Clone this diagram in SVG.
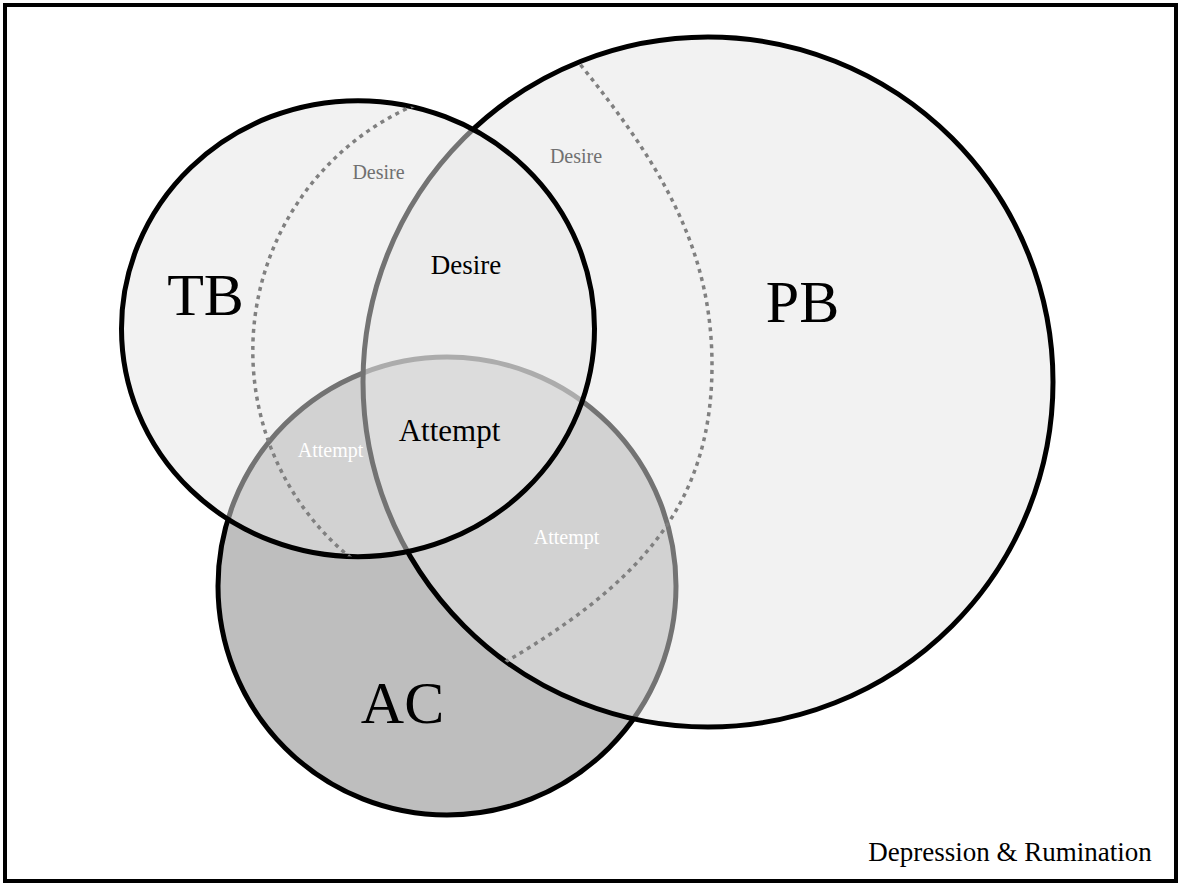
<svg xmlns="http://www.w3.org/2000/svg" width="1181" height="886" viewBox="0 0 1181 886">
<style>
.set{stroke:#000;stroke-width:5}
.light{fill:#e6e6e6;fill-opacity:0.5}
.dash{fill:none;stroke:#808080;stroke-width:3.5;stroke-dasharray:4 4.5}
.big{font-family:"Liberation Serif","Times New Roman",serif;font-size:60px;fill:#000;text-anchor:middle}
.mid{font-family:"Liberation Serif","Times New Roman",serif;fill:#000;text-anchor:middle}
.small{font-family:"Liberation Serif","Times New Roman",serif;font-size:20px;text-anchor:middle}
</style>
<defs>
<clipPath id="clipTB"><ellipse cx="358" cy="328.7" rx="236.5" ry="228"/></clipPath>
<clipPath id="clipPB"><circle cx="708" cy="382" r="345"/></clipPath>
</defs>
<rect x="5" y="5" width="1171" height="876" fill="#fff" stroke="#000" stroke-width="4"/>
<g id="AC">
<circle class="set" cx="447" cy="586" r="229" fill="#bebebe"/>
<text class="big" x="402.5" y="723">AC</text>
</g>
<g id="PB">
<circle class="set light" cx="708" cy="382" r="345"/>
<text class="big" x="802.5" y="322">PB</text>
</g>
<g id="TB">
<ellipse class="set light" cx="358" cy="328.7" rx="236.5" ry="228"/>
<text class="big" x="205.5" y="315">TB</text>
</g>
<g id="connectors">
<circle class="dash" cx="520.4" cy="351" r="267.6" clip-path="url(#clipTB)"/>
<path class="dash" clip-path="url(#clipPB)" d="M575,58 C657,159 712,245 712,365 C712,505 640,585 495,668"/>
</g>
<g id="labels">
<text class="small" x="378.5" y="179" fill="#707070">Desire</text>
<text class="small" x="576" y="163" fill="#707070">Desire</text>
<text class="mid" x="466" y="274" font-size="27">Desire</text>
<text class="mid" x="449.5" y="441" font-size="31">Attempt</text>
<text class="small" x="330.5" y="457" fill="#fff">Attempt</text>
<text class="small" x="566.5" y="544" fill="#fff">Attempt</text>
<text class="mid" x="1010" y="861" font-size="27">Depression &amp; Rumination</text>
</g>
</svg>
